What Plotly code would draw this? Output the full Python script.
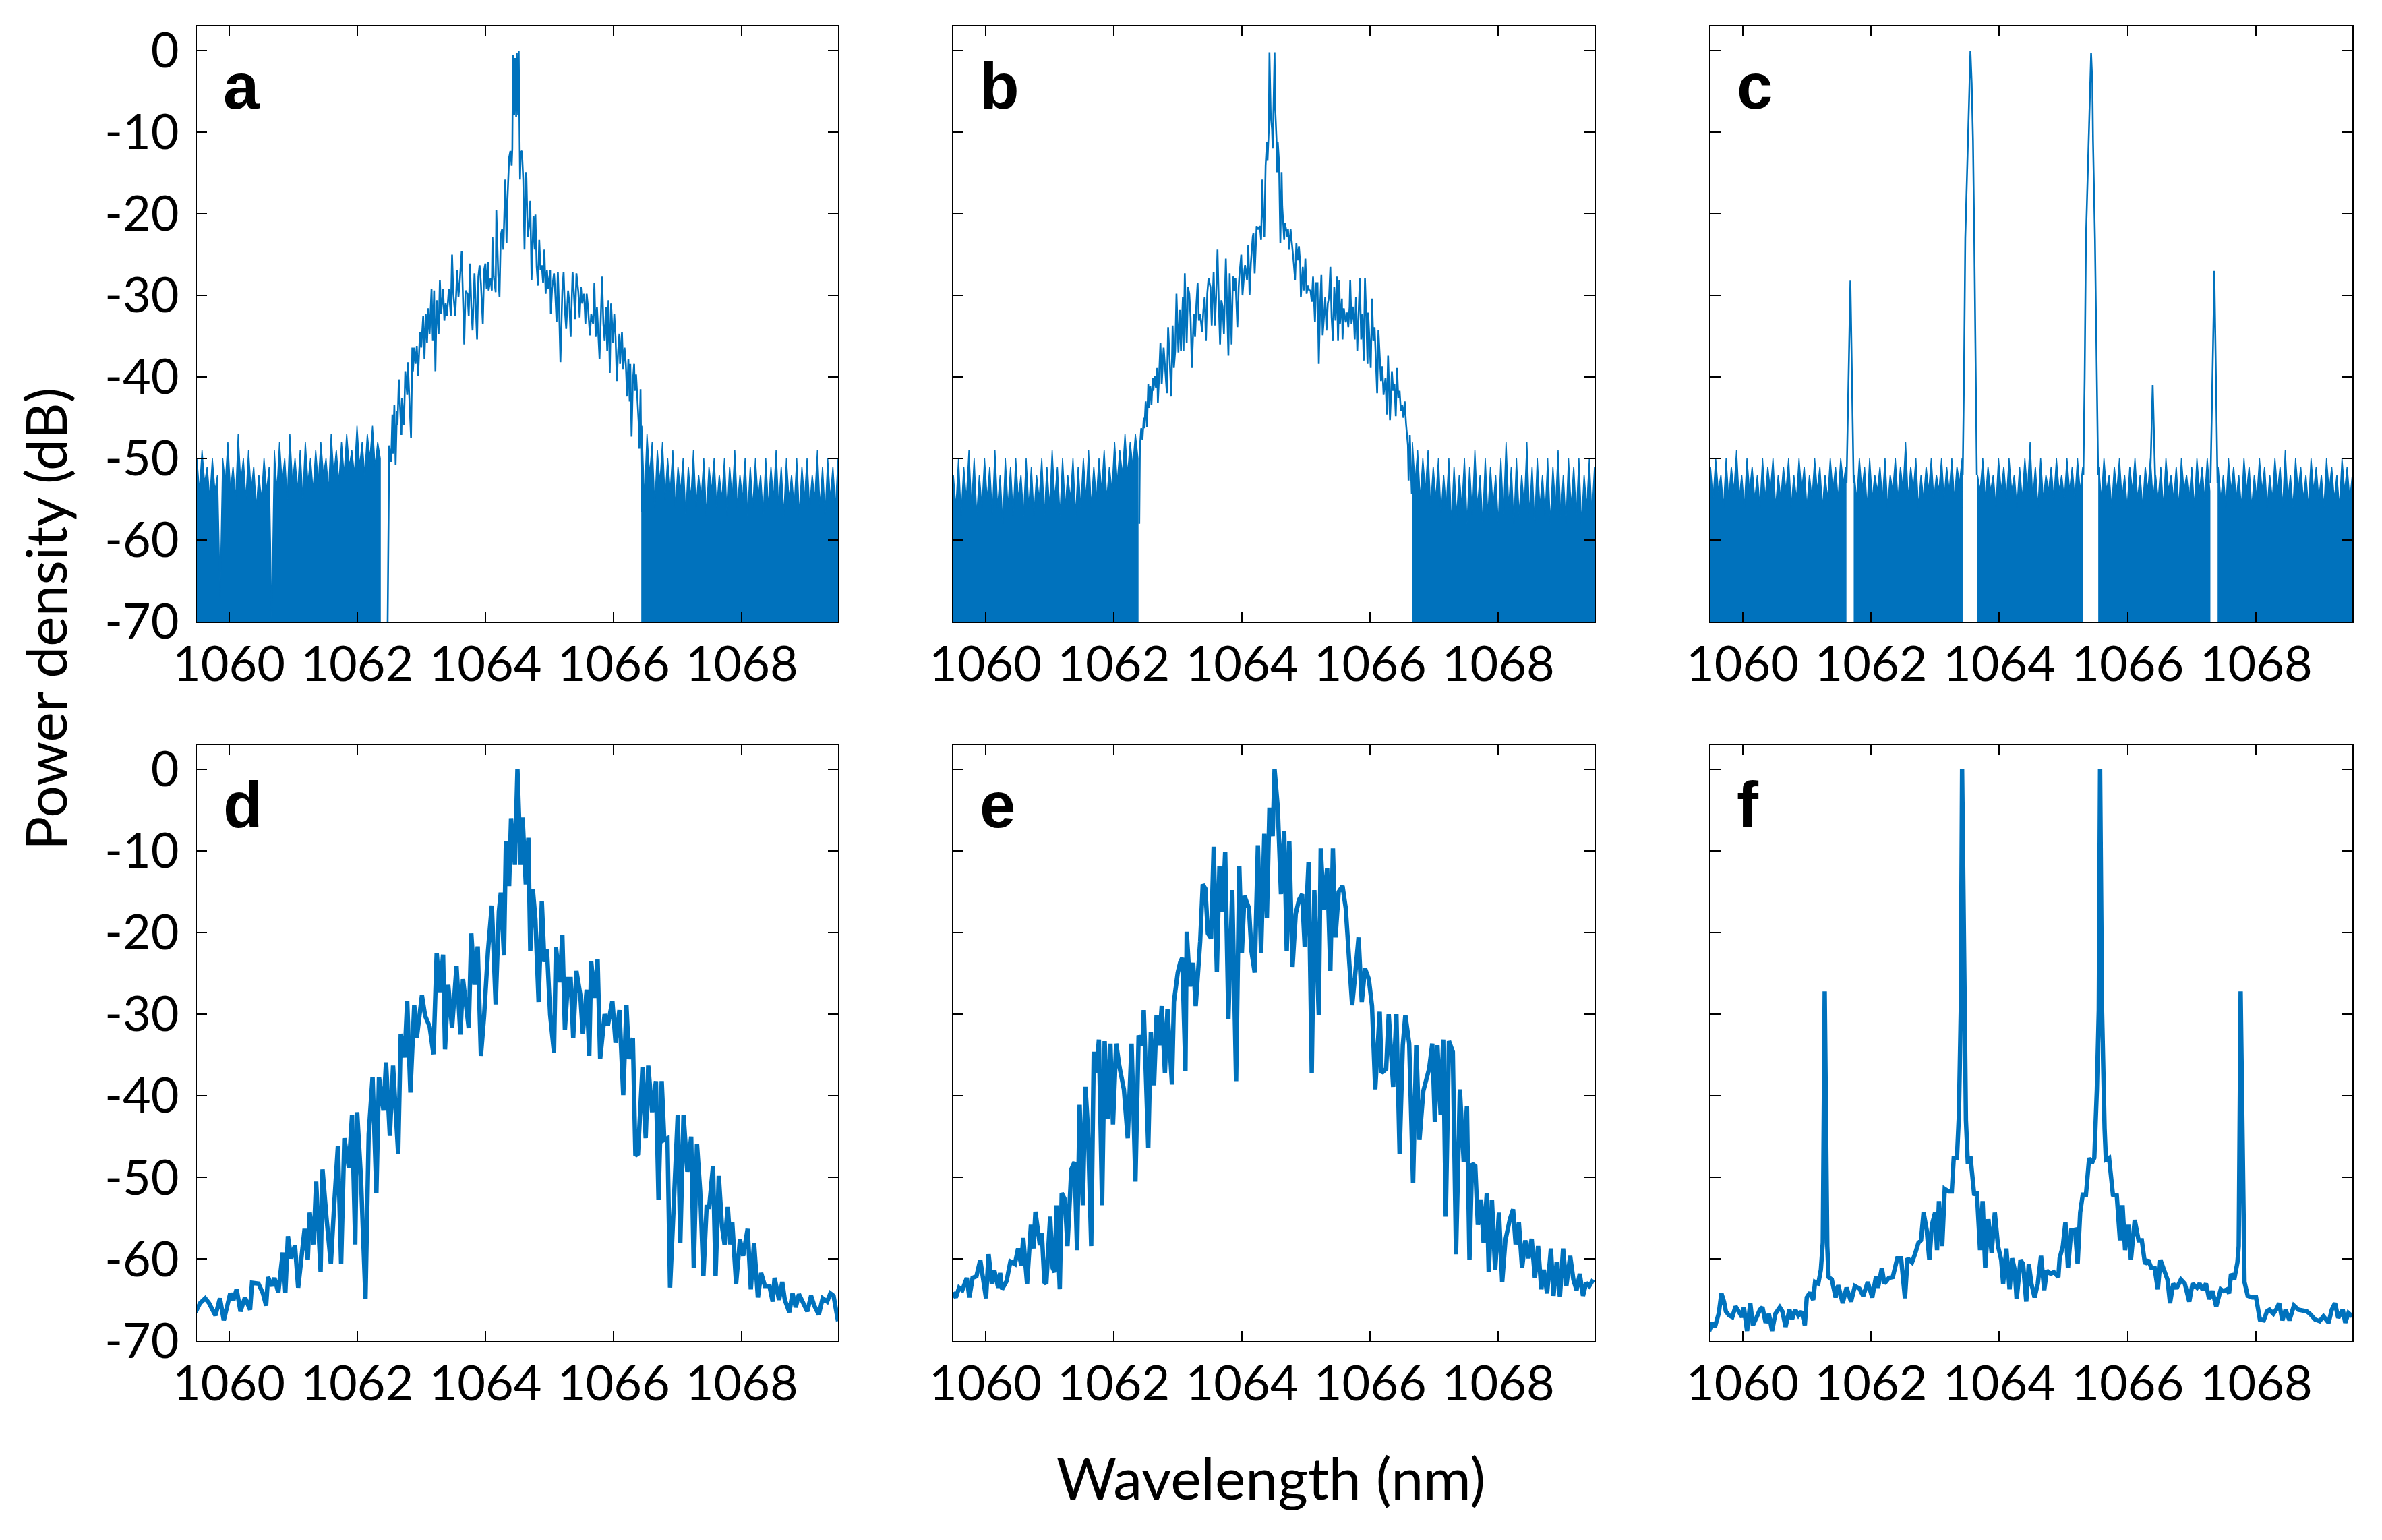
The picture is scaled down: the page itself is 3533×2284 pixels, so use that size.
import numpy as np
import plotly.graph_objects as go

# ---------------- style / layout constants ----------------
BLUE = "#0072BD"
FONT = "Lato"
PAGE_OFFSET = 8                     # default HTML body margin
W, H = 3533 - PAGE_OFFSET, 2284 - PAGE_OFFSET
COL_PX = [(292, 1243), (1414, 2365), (2537, 3489)]
ROW_PX = [(38.8, 922.0), (1104.6, 1988.5)]
X_RANGE = [1059.5, 1069.5]
Y_RANGE = [-70, 3]
FLOOR = -80


def px_x(p):
    return (p - PAGE_OFFSET) / W


def px_y(p):
    return 1 - (p - PAGE_OFFSET) / H


# ---------------- axis ticks / labels ----------------
XTICKS = [1060, 1062, 1064, 1066, 1068]
YTICKS = [0, -10, -20, -30, -40, -50, -60, -70]
YTICKTEXT = ["0", "-10", "-20", "-30", "-40", "-50", "-60", "-70"]
PANEL_LETTERS = ["a", "b", "c", "d", "e", "f"]

# ---------------- panel a (high-res spectrum) ----------------
A_NOISE_L_RANGE = (1059.50, 1062.36)
A_NOISE_L = [-50,-54,-49,-53,-51,-55,-50,-54,-52,-67, -50,-53,-48,-54,-51,-55,-47,-53,-50,-55,
             -49,-54,-51,-56,-52,-55,-50,-54,-51,-70, -49,-54,-48,-53,-50,-55,-47,-53,-50,-54,
             -49,-55,-48,-53,-50,-54,-49,-53,-48,-52, -50,-54,-47,-52,-49,-53,-48,-52,-47,-51,
             -49,-52,-46,-51,-48,-52,-47,-50,-46,-51, -48,-50]
A_NOISE_R_RANGE = (1066.44, 1069.50)
A_NOISE_R = [-46,-55,-47,-52,-48,-56,-49,-53,-48,-55, -50,-54,-49,-56,-51,-54,-50,-57,-51,-55,
             -49,-56,-52,-55,-50,-57,-51,-54,-50,-56, -52,-55,-50,-57,-51,-55,-49,-56,-52,-55,
             -50,-57,-51,-56,-50,-55,-52,-57,-50,-56, -51,-55,-49,-56,-51,-57,-50,-55,-52,-56,
             -50,-57,-51,-55,-50,-56,-52,-55,-49,-56, -51,-57,-50,-55,-51,-56,-50]
A_X = [1062.47,1062.50,1062.53,1062.55,1062.56,1062.58,1062.60,1062.62,1062.63,1062.65,
       1062.67,1062.69,1062.70,1062.73,1062.75,1062.78,1062.79,1062.81,1062.84,1062.86,
       1062.87,1062.89,1062.91,1062.93,1062.95,1062.98,1063.00,1063.03,1063.05,1063.07,
       1063.09,1063.11,1063.13,1063.16,1063.18,1063.20,1063.22,1063.24,1063.27,1063.29,
       1063.31,1063.34,1063.36,1063.38,1063.40,1063.43,1063.46,1063.48,1063.50,1063.53,
       1063.56,1063.58,1063.60,1063.63,1063.65,1063.67,1063.69,1063.72,1063.74,1063.76,
       1063.78,1063.80,1063.83,1063.84,1063.87,1063.89,1063.91,1063.93,1063.96,1063.98,
       1064.00,1064.02,1064.04,1064.05,1064.08,1064.10,1064.11,1064.13,1064.16,1064.17,
       1064.20,1064.22,1064.24,1064.26,1064.28,1064.31,1064.33,1064.34,1064.37,1064.39,
       1064.41,1064.42,1064.43,1064.45,1064.46,1064.48,1064.49,1064.51,1064.52,1064.53,
       1064.54,1064.55,1064.57,1064.59,1064.61,1064.63,1064.64,1064.66,1064.68,1064.70,
       1064.72,1064.75,1064.77,1064.78,1064.80,1064.82,1064.84,1064.86,1064.88,1064.90,
       1064.92,1064.94,1064.96,1064.98,1065.01,1065.02,1065.04,1065.07,1065.09,1065.11,
       1065.13,1065.15,1065.17,1065.20,1065.22,1065.24,1065.26,1065.29,1065.31,1065.33,
       1065.36,1065.38,1065.40,1065.42,1065.45,1065.47,1065.49,1065.51,1065.54,1065.56,
       1065.58,1065.60,1065.63,1065.65,1065.68,1065.70,1065.72,1065.74,1065.76,1065.78,
       1065.81,1065.82,1065.84,1065.86,1065.88,1065.90,1065.92,1065.94,1065.96,1065.99,
       1066.01,1066.03,1066.05,1066.07,1066.09,1066.10,1066.13,1066.15,1066.17,1066.19,
       1066.21,1066.23,1066.25,1066.26,1066.28,1066.30,1066.32,1066.33,1066.35,1066.37,
       1066.39,1066.40,1066.42,1066.44]
A_Y = [-75,-48.4,-50.4,-44.6,-49.4,-43.4,-50.8,-44.2,-45.9,-40.3,
       -43.8,-47.1,-42.6,-45.9,-39.3,-42.2,-38.2,-42.6,-47.5,-36.4,
       -39.3,-36.4,-38.4,-36.2,-39.9,-34.5,-36.4,-32.5,-37.8,-32.3,
       -35.8,-31.6,-34.7,-29.2,-35.6,-29.4,-39.3,-30.6,-34.7,-28.1,
       -32.3,-29.2,-33.1,-31.0,-32.5,-29.2,-32.5,-25.0,-29.8,-32.5,
       -26.9,-30.2,-28.3,-24.6,-31.0,-36.0,-29.4,-29.8,-32.5,-26.1,
       -31.4,-34.3,-27.3,-29.8,-35.4,-27.7,-26.3,-28.5,-33.5,-26.9,
       -26.1,-29.2,-25.9,-29.4,-27.9,-29.4,-22.8,-27.7,-29.6,-19.5,
       -27.5,-30.2,-22.6,-21.9,-24.4,-15.8,-23.6,-19.1,-13.1,-12.3,
       -14.1,-12.0,-0.5,-7.9,-0.9,-8.1,-0.3,-7.9,0.0,-8.1,
       -15.8,-12.5,-12.3,-15.8,-24.4,-14.9,-15.6,-22.8,-21.5,-18.4,
       -28.1,-20.3,-24.4,-20.1,-26.5,-28.8,-23.2,-26.9,-26.3,-28.5,
       -24.4,-29.8,-26.9,-29.2,-26.9,-32.3,-29.2,-27.3,-29.8,-33.3,
       -27.1,-31.8,-38.2,-29.4,-27.1,-31.8,-34.1,-29.4,-31.0,-35.1,
       -27.1,-29.6,-32.9,-27.3,-29.6,-32.7,-29.0,-31.0,-29.8,-33.5,
       -29.8,-31.4,-34.9,-32.3,-33.5,-28.5,-35.1,-31.4,-35.1,-37.8,
       -30.2,-27.7,-33.5,-35.6,-31.4,-36.8,-30.6,-39.5,-31.0,-35.8,
       -32.3,-35.1,-40.5,-36.8,-34.7,-38.4,-34.5,-39.1,-36.4,-38.4,
       -42.4,-37.8,-43.0,-38.4,-47.3,-40.5,-38.4,-41.7,-39.7,-42.8,
       -45.5,-48.8,-41.5,-56.6]

# ---------------- panel b (high-res spectrum) ----------------
B_NOISE_L_RANGE = (1059.50, 1062.38)
B_NOISE_L = [-52,-56,-50,-57,-51,-55,-49,-56,-50,-57, -52,-56,-50,-55,-51,-57,-49,-56,-52,-58,
             -50,-56,-51,-57,-50,-55,-52,-57,-50,-56, -51,-57,-52,-55,-50,-57,-51,-56,-49,-55,
             -51,-57,-50,-56,-52,-55,-50,-57,-51,-56, -50,-55,-49,-56,-51,-55,-50,-54,-49,-55,
             -51,-54,-48,-53,-49,-52,-47,-52,-48,-51, -47,-50]
B_NOISE_R_RANGE = (1066.66, 1069.50)
B_NOISE_R = [-48,-53,-49,-55,-50,-54,-49,-56,-51,-55, -50,-57,-52,-56,-50,-58,-51,-57,-52,-56,
             -50,-58,-51,-57,-49,-56,-52,-58,-50,-57, -51,-56,-52,-58,-50,-57,-48,-56,-51,-58,
             -50,-57,-52,-56,-48,-57,-51,-58,-50,-56, -52,-57,-50,-58,-51,-56,-49,-57,-52,-58,
             -50,-56,-51,-57,-50,-58,-52,-56,-50,-57, -51]
B_X = [1062.40,1062.41,1062.43,1062.45,1062.47,1062.48,1062.50,1062.52,1062.54,1062.55,
       1062.57,1062.59,1062.61,1062.62,1062.64,1062.66,1062.68,1062.69,1062.71,1062.73,
       1062.75,1062.77,1062.78,1062.81,1062.83,1062.85,1062.88,1062.90,1062.92,1062.94,
       1062.96,1062.98,1063.01,1063.03,1063.05,1063.08,1063.09,1063.11,1063.13,1063.14,
       1063.16,1063.18,1063.20,1063.22,1063.25,1063.27,1063.29,1063.31,1063.33,1063.35,
       1063.38,1063.40,1063.42,1063.44,1063.46,1063.48,1063.51,1063.53,1063.56,1063.58,
       1063.60,1063.62,1063.64,1063.66,1063.68,1063.70,1063.72,1063.75,1063.77,1063.79,
       1063.81,1063.82,1063.84,1063.86,1063.88,1063.90,1063.93,1063.95,1063.96,1063.99,
       1064.01,1064.04,1064.05,1064.08,1064.10,1064.12,1064.14,1064.17,1064.18,1064.20,
       1064.23,1064.25,1064.28,1064.30,1064.32,1064.33,1064.35,1064.37,1064.39,1064.40,
       1064.42,1064.43,1064.45,1064.47,1064.48,1064.49,1064.51,1064.52,1064.54,1064.55,
       1064.56,1064.58,1064.60,1064.62,1064.63,1064.66,1064.67,1064.69,1064.71,1064.72,
       1064.74,1064.76,1064.78,1064.80,1064.81,1064.83,1064.85,1064.87,1064.89,1064.91,
       1064.92,1064.95,1064.97,1064.99,1065.01,1065.03,1065.05,1065.07,1065.09,1065.11,
       1065.14,1065.16,1065.18,1065.20,1065.22,1065.24,1065.26,1065.28,1065.30,1065.32,
       1065.34,1065.36,1065.38,1065.40,1065.42,1065.44,1065.46,1065.48,1065.50,1065.52,
       1065.53,1065.56,1065.57,1065.59,1065.62,1065.64,1065.66,1065.68,1065.69,1065.71,
       1065.74,1065.76,1065.78,1065.80,1065.82,1065.84,1065.86,1065.88,1065.90,1065.92,
       1065.94,1065.96,1065.97,1065.99,1066.01,1066.03,1066.05,1066.07,1066.09,1066.11,
       1066.13,1066.15,1066.17,1066.19,1066.21,1066.24,1066.26,1066.28,1066.29,1066.31,
       1066.34,1066.36,1066.38,1066.40,1066.42,1066.44,1066.46,1066.48,1066.50,1066.52,
       1066.54,1066.56,1066.59,1066.60,1066.62,1066.65]
B_Y = [-58.0,-48.6,-46.3,-47.7,-45.0,-46.3,-43.0,-46.1,-40.9,-43.8,
       -41.1,-43.4,-40.1,-41.7,-39.9,-41.3,-38.9,-43.2,-39.7,-35.8,
       -40.9,-38.0,-36.4,-39.7,-42.0,-33.9,-39.3,-42.4,-33.7,-38.9,
       -36.8,-29.8,-37.0,-31.8,-36.8,-30.2,-36.8,-27.3,-33.5,-35.8,
       -29.0,-29.8,-32.7,-38.9,-32.3,-35.1,-31.2,-28.5,-33.1,-32.3,
       -34.5,-31.8,-30.2,-35.6,-29.8,-27.9,-29.0,-33.7,-27.1,-33.7,
       -29.8,-24.4,-31.0,-36.0,-30.6,-31.4,-34.7,-25.5,-31.4,-37.4,
       -27.3,-30.2,-36.0,-27.7,-29.4,-27.9,-33.9,-29.0,-27.7,-25.0,
       -30.0,-26.9,-26.3,-28.1,-23.8,-30.0,-26.1,-22.8,-22.4,-27.3,
       -21.5,-21.9,-21.5,-23.2,-15.8,-19.5,-22.8,-14.1,-11.2,-13.5,
       -9.6,-0.2,-7.9,-9.6,-12.0,-8.5,-0.2,-7.1,-10.8,-14.9,
       -11.2,-13.7,-23.6,-14.9,-19.1,-23.2,-21.1,-21.9,-22.8,-21.9,
       -24.4,-21.9,-23.4,-25.2,-26.1,-28.1,-23.6,-25.7,-24.0,-26.1,
       -30.2,-26.5,-29.4,-25.5,-29.8,-28.8,-29.4,-29.4,-30.8,-27.7,
       -33.3,-28.5,-28.5,-38.4,-31.4,-27.5,-34.9,-32.7,-30.2,-34.3,
       -31.0,-30.2,-26.5,-32.7,-35.6,-29.0,-33.1,-27.7,-35.6,-28.1,
       -33.5,-30.4,-35.4,-31.6,-33.3,-32.1,-33.9,-31.4,-28.1,-33.5,
       -31.4,-35.4,-30.2,-36.8,-31.8,-27.9,-35.4,-32.3,-38.0,-27.9,
       -32.7,-38.4,-32.1,-35.1,-38.9,-30.4,-35.6,-33.9,-38.9,-42.0,
       -34.3,-37.6,-40.5,-38.7,-42.2,-40.1,-44.6,-37.4,-40.3,-45.3,
       -39.3,-41.7,-40.9,-44.8,-38.9,-42.6,-41.7,-44.2,-43.4,-45.0,
       -43.0,-45.7,-48.4,-52.7,-47.1,-54.3]

# ---------------- panel c (high-res spectrum, 5 lines) ----------------
C_NOISE_RANGES = [(1059.50, 1061.61), (1061.74, 1063.42), (1063.66, 1065.30),
                  (1065.55, 1067.28), (1067.41, 1069.50)]
C_NOISE_1 = [-51,-55,-50,-54,-52,-56,-50,-55,-51,-54,-49,-55,-52,-56,-50,-54,-51,-55,-52,-56,
             -50,-55,-51,-54,-50,-56,-52,-55,-51,-54,-50,-56,-52,-55,-50,-54,-51,-56,-52,-55,
             -50,-54,-51,-56,-52,-55,-50,-54,-51,-55,-50,-53,-51]
C_NOISE_2 = [-52,-55,-50,-54,-51,-56,-50,-55,-52,-54,-51,-55,-50,-56,-52,-54,-50,-55,-51,-54,
             -48,-55,-51,-54,-50,-56,-52,-55,-51,-54,-50,-55,-52,-54,-50,-55,-51,-54,-50,-55,
             -51,-53,-50]
C_NOISE_3 = [-52,-54,-50,-55,-51,-54,-52,-56,-50,-54,-51,-55,-50,-54,-52,-56,-51,-55,-50,-54,
             -48,-55,-51,-56,-50,-55,-52,-54,-51,-55,-50,-54,-52,-55,-50,-54,-51,-55,-50,-54,
             -51]
C_NOISE_4 = [-51,-55,-50,-54,-52,-56,-51,-54,-50,-55,-52,-56,-51,-54,-50,-55,-52,-56,-51,-54,
             -50,-55,-52,-55,-51,-56,-50,-54,-52,-55,-51,-56,-50,-54,-52,-55,-51,-56,-50,-54,
             -51,-55,-50,-54]
C_NOISE_5 = [-51,-55,-52,-56,-50,-54,-51,-55,-52,-56,-50,-54,-51,-56,-52,-55,-50,-54,-51,-56,
             -52,-55,-50,-54,-51,-56,-49,-55,-52,-56,-50,-54,-51,-55,-52,-56,-50,-54,-51,-55,
             -52,-56,-50,-54,-51,-55,-52,-56,-50,-54,-51,-55,-52]
C_X = [1061.62,1061.65,1061.67,1061.68,1061.69,1061.71,1061.73, None,
       1063.43,1063.45,1063.47,1063.51,1063.53,1063.55,1063.57,1063.59,1063.61,1063.63,1063.65, None,
       1065.31,1065.33,1065.35,1065.39,1065.41,1065.43,1065.45,1065.46,1065.49,1065.52,1065.54, None,
       1066.35,1066.37,1066.39,1066.41,1066.43, None,
       1067.29,1067.32,1067.34,1067.35,1067.36,1067.38,1067.40]
C_Y = [-53,-42,-33,-28.2,-33,-42,-53, None,
       -52,-40,-23,-11,-4,0,-4,-11,-23,-40,-52, None,
       -52,-40,-23,-11,-4,-0.3,-4,-11,-23,-40,-52, None,
       -53,-47,-41,-47,-53, None,
       -53,-42,-32,-27,-32,-42,-53]

# ---------------- panel d ----------------
D_X = [1059.48,1059.55,1059.63,1059.69,1059.79,1059.86,1059.92,1059.99,1060.02,1060.07,
       1060.12,1060.18,1060.25,1060.33,1060.36,1060.46,1060.53,1060.58,1060.61,1060.67,
       1060.71,1060.77,1060.84,1060.88,1060.92,1060.97,1061.03,1061.08,1061.13,1061.18,
       1061.23,1061.26,1061.32,1061.36,1061.43,1061.46,1061.52,1061.59,1061.64,1061.70,
       1061.75,1061.80,1061.87,1061.92,1061.97,1062.00,1062.06,1062.13,1062.18,1062.24,
       1062.30,1062.34,1062.41,1062.45,1062.51,1062.56,1062.64,1062.68,1062.74,1062.78,
       1062.83,1062.89,1062.93,1063.01,1063.06,1063.13,1063.19,1063.24,1063.29,1063.34,
       1063.37,1063.42,1063.48,1063.55,1063.61,1063.65,1063.74,1063.78,1063.83,1063.88,
       1063.93,1063.98,1064.04,1064.10,1064.16,1064.21,1064.24,1064.29,1064.32,1064.37,
       1064.40,1064.46,1064.50,1064.55,1064.58,1064.63,1064.67,1064.70,1064.74,1064.78,
       1064.83,1064.88,1064.92,1064.96,1065.01,1065.07,1065.10,1065.16,1065.20,1065.24,
       1065.29,1065.33,1065.37,1065.42,1065.48,1065.52,1065.58,1065.62,1065.65,1065.70,
       1065.75,1065.79,1065.86,1065.91,1065.98,1066.03,1066.09,1066.15,1066.20,1066.24,
       1066.30,1066.34,1066.38,1066.45,1066.50,1066.54,1066.60,1066.66,1066.70,1066.75,
       1066.79,1066.84,1066.88,1066.94,1067.00,1067.04,1067.09,1067.15,1067.21,1067.25,
       1067.30,1067.35,1067.40,1067.45,1067.49,1067.55,1067.59,1067.64,1067.69,1067.73,
       1067.78,1067.82,1067.85,1067.91,1067.97,1068.02,1068.09,1068.14,1068.19,1068.25,
       1068.30,1068.36,1068.43,1068.48,1068.51,1068.58,1068.63,1068.67,1068.74,1068.79,
       1068.84,1068.89,1068.95,1069.02,1069.08,1069.13,1069.20,1069.26,1069.33,1069.38,
       1069.43,1069.50]
D_Y = [-66.5,-65.4,-64.8,-65.4,-66.9,-64.8,-67.5,-65.4,-64.2,-65.0,
       -63.7,-66.4,-64.7,-66.2,-62.9,-63.0,-64.2,-65.7,-62.2,-63.3,
       -62.3,-64.1,-59.2,-64.1,-57.2,-59.9,-58.3,-63.5,-60.4,-56.3,
       -60.1,-54.3,-58.2,-50.5,-61.6,-49.0,-54.8,-60.6,-53.6,-46.1,
       -60.6,-45.2,-48.8,-42.3,-58.2,-42.0,-50.2,-64.9,-44.7,-37.7,
       -51.9,-37.7,-41.8,-35.9,-44.9,-36.3,-47.1,-32.4,-35.3,-28.4,
       -39.6,-28.9,-32.9,-27.7,-30.2,-31.5,-34.9,-22.5,-27.3,-22.7,
       -34.3,-26.4,-31.7,-24.1,-32.5,-25.7,-31.7,-20.1,-26.4,-21.7,
       -35.1,-30.2,-22.3,-16.7,-28.8,-17.4,-15.1,-22.8,-8.8,-14.3,
       -6.0,-11.7,0.0,-11.7,-5.9,-14.1,-8.4,-22.3,-14.7,-18.4,
       -28.5,-16.2,-23.6,-22.0,-30.1,-34.7,-21.8,-26.1,-20.3,-31.9,
       -25.7,-25.7,-32.9,-24.7,-27.6,-32.4,-27.0,-35.1,-23.5,-28.0,
       -23.3,-35.5,-30.0,-31.4,-28.4,-33.5,-29.5,-39.9,-28.9,-35.5,
       -32.9,-47.3,-47.1,-36.5,-45.2,-36.3,-42.0,-38.2,-52.7,-38.2,
       -45.4,-45.2,-63.5,-51.9,-42.3,-58.0,-42.3,-49.3,-45.0,-61.1,
       -45.9,-51.7,-62.1,-53.6,-53.6,-48.6,-62.1,-49.8,-56.0,-58.2,
       -53.6,-58.2,-55.5,-63.0,-57.6,-59.6,-56.3,-63.7,-58.0,-64.7,
       -61.7,-63.3,-63.3,-65.2,-62.3,-65.0,-62.8,-65.0,-66.5,-64.2,
       -65.9,-64.3,-65.4,-66.4,-64.5,-65.7,-66.8,-64.8,-65.2,-64.2,
       -64.5,-67.6]

# ---------------- panel e ----------------
E_X = [1059.49,1059.54,1059.59,1059.64,1059.71,1059.75,1059.80,1059.86,1059.92,1059.97,
       1060.01,1060.05,1060.10,1060.14,1060.20,1060.23,1060.26,1060.33,1060.39,1060.46,
       1060.51,1060.56,1060.59,1060.65,1060.71,1060.75,1060.78,1060.85,1060.88,1060.92,
       1060.95,1061.01,1061.05,1061.08,1061.11,1061.16,1061.19,1061.24,1061.28,1061.34,
       1061.39,1061.43,1061.47,1061.52,1061.56,1061.60,1061.65,1061.69,1061.73,1061.77,
       1061.82,1061.86,1061.91,1061.95,1061.99,1062.04,1062.09,1062.16,1062.22,1062.28,
       1062.34,1062.39,1062.45,1062.47,1062.54,1062.58,1062.63,1062.67,1062.71,1062.75,
       1062.80,1062.84,1062.91,1062.94,1063.00,1063.04,1063.07,1063.12,1063.14,1063.19,
       1063.24,1063.28,1063.35,1063.39,1063.43,1063.47,1063.52,1063.56,1063.61,1063.65,
       1063.70,1063.74,1063.79,1063.85,1063.91,1063.96,1064.00,1064.04,1064.11,1064.15,
       1064.20,1064.25,1064.30,1064.35,1064.39,1064.43,1064.48,1064.51,1064.56,1064.61,
       1064.66,1064.70,1064.74,1064.79,1064.84,1064.89,1064.94,1064.98,1065.04,1065.09,
       1065.13,1065.20,1065.23,1065.28,1065.33,1065.38,1065.42,1065.46,1065.51,1065.57,
       1065.62,1065.68,1065.72,1065.77,1065.82,1065.87,1065.92,1065.98,1066.03,1066.08,
       1066.15,1066.18,1066.25,1066.29,1066.36,1066.41,1066.46,1066.51,1066.55,1066.61,
       1066.67,1066.72,1066.77,1066.83,1066.92,1066.97,1067.01,1067.05,1067.10,1067.14,
       1067.18,1067.23,1067.29,1067.34,1067.40,1067.46,1067.51,1067.55,1067.59,1067.64,
       1067.68,1067.73,1067.77,1067.82,1067.85,1067.90,1067.95,1068.01,1068.06,1068.11,
       1068.18,1068.23,1068.27,1068.32,1068.37,1068.42,1068.47,1068.52,1068.57,1068.62,
       1068.67,1068.71,1068.76,1068.82,1068.86,1068.91,1068.96,1069.01,1069.06,1069.12,
       1069.17,1069.22,1069.27,1069.32,1069.37,1069.42,1069.48]
E_Y = [-64.1,-64.7,-63.5,-63.8,-62.3,-64.7,-62.3,-62.1,-60.1,-63.3,
       -64.8,-59.4,-63.0,-61.4,-63.5,-61.7,-63.7,-62.7,-60.3,-60.6,
       -58.7,-60.8,-57.4,-63.0,-55.8,-58.7,-54.2,-58.3,-56.8,-62.8,
       -63.0,-54.8,-61.1,-61.6,-53.4,-63.7,-51.9,-52.7,-58.4,-49.0,
       -48.1,-58.9,-41.1,-53.4,-38.9,-44.2,-58.4,-34.6,-37.2,-33.1,
       -53.4,-33.3,-42.8,-33.6,-43.5,-33.6,-36.4,-39.2,-45.2,-33.6,
       -50.5,-32.6,-33.8,-29.5,-46.4,-32.2,-38.7,-30.1,-33.8,-29.0,
       -37.2,-29.4,-38.6,-28.5,-24.9,-23.6,-23.1,-37.0,-19.9,-26.6,
       -23.7,-29.0,-21.1,-14.1,-14.6,-20.1,-20.7,-9.5,-24.8,-11.9,
       -17.5,-10.1,-30.6,-14.8,-38.2,-11.9,-22.5,-15.5,-17.0,-22.3,
       -24.9,-9.3,-22.5,-7.9,-18.2,-4.7,-8.2,0.0,-4.7,-15.3,
       -7.6,-22.3,-8.8,-24.2,-17.7,-16.0,-15.3,-21.8,-11.4,-37.2,
       -14.8,-30.1,-9.7,-17.2,-12.1,-24.7,-9.7,-20.6,-15.0,-14.3,
       -17.0,-24.2,-28.9,-24.9,-20.6,-28.5,-24.4,-25.7,-29.0,-39.2,
       -29.7,-37.2,-36.7,-30.0,-38.9,-30.0,-47.1,-33.8,-30.1,-33.6,
       -50.7,-33.8,-45.4,-39.4,-36.7,-33.6,-43.2,-33.8,-42.3,-33.1,
       -54.8,-33.3,-34.6,-59.4,-39.2,-48.1,-41.3,-60.1,-48.3,-48.6,
       -55.8,-52.7,-58.0,-51.9,-61.6,-52.7,-61.3,-54.3,-62.8,-57.7,
       -55.1,-53.9,-58.2,-55.5,-61.1,-57.7,-59.9,-57.5,-62.3,-58.4,
       -63.7,-61.3,-64.2,-58.7,-64.5,-60.4,-64.6,-58.7,-63.3,-59.6,
       -62.5,-63.8,-61.8,-64.5,-62.9,-63.3,-62.5]

# ---------------- panel f ----------------
F_X = [1059.48,1059.53,1059.57,1059.63,1059.67,1059.71,1059.74,1059.79,1059.84,1059.89,
       1059.94,1059.99,1060.02,1060.07,1060.12,1060.16,1060.22,1060.27,1060.31,1060.36,
       1060.41,1060.46,1060.51,1060.58,1060.62,1060.67,1060.73,1060.77,1060.82,1060.87,
       1060.92,1060.97,1061.00,1061.05,1061.10,1061.13,1061.18,1061.22,1061.25,1061.28,
       1061.32,1061.34,1061.39,1061.45,1061.49,1061.56,1061.62,1061.69,1061.75,1061.82,
       1061.88,1061.95,1062.02,1062.08,1062.11,1062.17,1062.21,1062.28,1062.34,1062.41,
       1062.47,1062.53,1062.57,1062.64,1062.69,1062.74,1062.78,1062.82,1062.87,1062.91,
       1062.95,1063.00,1063.03,1063.06,1063.11,1063.15,1063.21,1063.26,1063.29,1063.34,
       1063.37,1063.40,1063.42,1063.46,1063.48,1063.51,1063.55,1063.61,1063.65,1063.70,
       1063.74,1063.78,1063.83,1063.88,1063.93,1063.98,1064.03,1064.06,1064.11,1064.16,
       1064.20,1064.24,1064.27,1064.33,1064.37,1064.42,1064.46,1064.50,1064.55,1064.60,
       1064.65,1064.70,1064.74,1064.80,1064.85,1064.92,1064.94,1064.99,1065.03,1065.07,
       1065.12,1065.18,1065.22,1065.26,1065.30,1065.35,1065.40,1065.44,1065.48,1065.52,
       1065.55,1065.57,1065.60,1065.64,1065.66,1065.71,1065.77,1065.83,1065.88,1065.92,
       1065.96,1066.01,1066.05,1066.11,1066.17,1066.22,1066.27,1066.32,1066.37,1066.42,
       1066.47,1066.51,1066.56,1066.62,1066.66,1066.71,1066.76,1066.83,1066.89,1066.96,
       1067.01,1067.08,1067.12,1067.17,1067.22,1067.27,1067.32,1067.38,1067.45,1067.49,
       1067.55,1067.58,1067.61,1067.66,1067.71,1067.73,1067.76,1067.80,1067.82,1067.87,
       1067.94,1068.00,1068.06,1068.12,1068.17,1068.21,1068.27,1068.32,1068.36,1068.41,
       1068.46,1068.52,1068.59,1068.66,1068.72,1068.79,1068.84,1068.92,1068.99,1069.05,
       1069.13,1069.18,1069.23,1069.28,1069.35,1069.39,1069.44,1069.50]
F_Y = [-68.8,-67.8,-68.3,-66.6,-64.2,-65.2,-66.4,-66.9,-67.1,-65.8,
       -66.4,-67.1,-65.9,-68.8,-65.4,-68.1,-67.1,-66.2,-65.9,-67.8,
       -66.7,-68.8,-66.7,-65.9,-66.4,-68.3,-66.2,-67.4,-66.2,-66.9,
       -66.4,-68.1,-64.7,-64.1,-65.0,-62.8,-63.0,-61.3,-58.0,-27.2,
       -58.4,-62.2,-62.5,-64.7,-63.2,-65.4,-63.5,-65.2,-63.3,-63.6,
       -64.5,-62.8,-64.7,-62.1,-63.5,-61.1,-63.0,-62.3,-62.2,-59.9,
       -59.9,-64.8,-59.9,-60.4,-59.3,-58.0,-57.7,-54.3,-56.5,-60.1,
       -55.8,-54.3,-58.9,-52.9,-58.4,-51.4,-51.7,-51.7,-47.6,-47.6,
       -42.5,-29.5,0.0,-29.5,-43.0,-48.3,-47.4,-52.2,-51.7,-58.9,
       -52.9,-61.1,-55.1,-59.2,-54.3,-58.4,-60.1,-63.0,-58.7,-63.7,
       -59.9,-61.3,-64.9,-60.1,-60.6,-65.2,-60.6,-63.0,-64.7,-63.0,
       -59.6,-63.8,-61.4,-61.8,-61.6,-62.2,-59.9,-58.4,-55.5,-61.1,
       -56.5,-56.4,-60.6,-54.3,-52.1,-52.1,-47.6,-48.3,-47.6,-39.2,
       -29.5,0.0,-29.5,-44.0,-47.8,-47.6,-52.1,-52.2,-57.7,-53.4,
       -58.9,-55.8,-60.1,-55.2,-57.7,-57.7,-60.6,-60.1,-61.1,-61.1,
       -63.7,-60.1,-61.1,-62.5,-65.4,-63.0,-63.6,-62.5,-63.0,-65.2,
       -63.0,-63.5,-63.0,-63.8,-63.0,-64.9,-63.9,-65.8,-63.7,-63.9,
       -63.7,-64.2,-61.8,-62.5,-60.4,-58.4,-27.2,-60.4,-62.8,-64.5,
       -64.7,-64.7,-67.4,-67.5,-66.4,-66.2,-66.7,-66.1,-65.4,-67.5,
       -66.2,-67.5,-65.7,-66.2,-66.3,-66.4,-66.7,-67.4,-67.6,-67.0,
       -67.8,-66.2,-65.4,-67.2,-66.2,-67.8,-66.6,-67.0]

# ---------------- build figure ----------------
fig = go.Figure()


def axis_ids(i):
    n = i + 1
    return ("x" if n == 1 else f"x{n}"), ("y" if n == 1 else f"y{n}")


def add_line(i, x, y, width):
    xa, ya = axis_ids(i)
    fig.add_trace(go.Scatter(x=x, y=y, mode="lines", connectgaps=False,
                             line=dict(color=BLUE, width=width),
                             xaxis=xa, yaxis=ya, showlegend=False, hoverinfo="skip"))


def add_noise(i, xr, vals):
    x0, x1 = xr
    xs = list(np.linspace(x0, x1, len(vals)))
    xa, ya = axis_ids(i)
    fig.add_trace(go.Scatter(x=[x0] + xs + [x1], y=[FLOOR] + list(vals) + [FLOOR],
                             mode="lines", fill="toself", fillcolor=BLUE,
                             line=dict(color=BLUE, width=1.6),
                             xaxis=xa, yaxis=ya, showlegend=False, hoverinfo="skip"))


TOP_W = 2.6
BOT_W = 6.5

# a
add_noise(0, A_NOISE_L_RANGE, A_NOISE_L)
add_noise(0, A_NOISE_R_RANGE, A_NOISE_R)
add_line(0, A_X, A_Y, TOP_W)
# b
add_noise(1, B_NOISE_L_RANGE, B_NOISE_L)
add_noise(1, B_NOISE_R_RANGE, B_NOISE_R)
add_line(1, B_X, B_Y, TOP_W)
# c
for rng, vals in zip(C_NOISE_RANGES, [C_NOISE_1, C_NOISE_2, C_NOISE_3, C_NOISE_4, C_NOISE_5]):
    add_noise(2, rng, vals)
add_line(2, C_X, C_Y, TOP_W)
# d, e, f
add_line(3, D_X, D_Y, BOT_W)
add_line(4, E_X, E_Y, BOT_W)
add_line(5, F_X, F_Y, BOT_W)

common = dict(showline=True, linecolor="black", linewidth=2, mirror="ticks",
              ticks="inside", ticklen=15, tickwidth=2, tickcolor="black",
              showgrid=False, zeroline=False, automargin=False,
              tickfont=dict(family=FONT, size=72, color="black"))

layout_axes = {}
for i in range(6):
    r, c = divmod(i, 3)
    n = i + 1
    xa, ya = axis_ids(i)
    xkey = "xaxis" if n == 1 else f"xaxis{n}"
    ykey = "yaxis" if n == 1 else f"yaxis{n}"
    x0, x1 = COL_PX[c]
    y0, y1 = ROW_PX[r]
    layout_axes[xkey] = dict(domain=[px_x(x0), px_x(x1)], anchor=ya, range=X_RANGE,
                             tickmode="array", tickvals=XTICKS,
                             ticktext=[str(t) for t in XTICKS], **common)
    layout_axes[ykey] = dict(domain=[px_y(y1), px_y(y0)], anchor=xa, range=Y_RANGE,
                             tickmode="array", tickvals=YTICKS, ticktext=YTICKTEXT,
                             showticklabels=(c == 0), ticklabelstandoff=10, **common)

fig.update_layout(width=W, height=H, margin=dict(l=0, r=0, t=0, b=0, autoexpand=False),
                  paper_bgcolor="white", plot_bgcolor="white", showlegend=False,
                  **layout_axes)

# panel letters
for i, letter in enumerate(PANEL_LETTERS):
    r, c = divmod(i, 3)
    fig.add_annotation(xref="paper", yref="paper",
                       x=px_x(COL_PX[c][0] + 37), y=px_y(ROW_PX[r][0] + 144),
                       xanchor="left", yanchor="bottom", showarrow=False,
                       text=f"<b>{letter}</b>",
                       font=dict(family="Liberation Sans", size=96, color="black"))

# axis titles
fig.add_annotation(xref="paper", yref="paper", x=px_x(1885), y=px_y(2244),
                   xanchor="center", yanchor="bottom", showarrow=False,
                   text="Wavelength (nm)", font=dict(family=FONT, size=86, color="black"))
fig.add_annotation(xref="paper", yref="paper", x=px_x(67), y=px_y(918),
                   xanchor="center", yanchor="middle", showarrow=False, textangle=-90,
                   text="Power density (dB)", font=dict(family=FONT, size=84, color="black"))

fig.write_html("out.html")
